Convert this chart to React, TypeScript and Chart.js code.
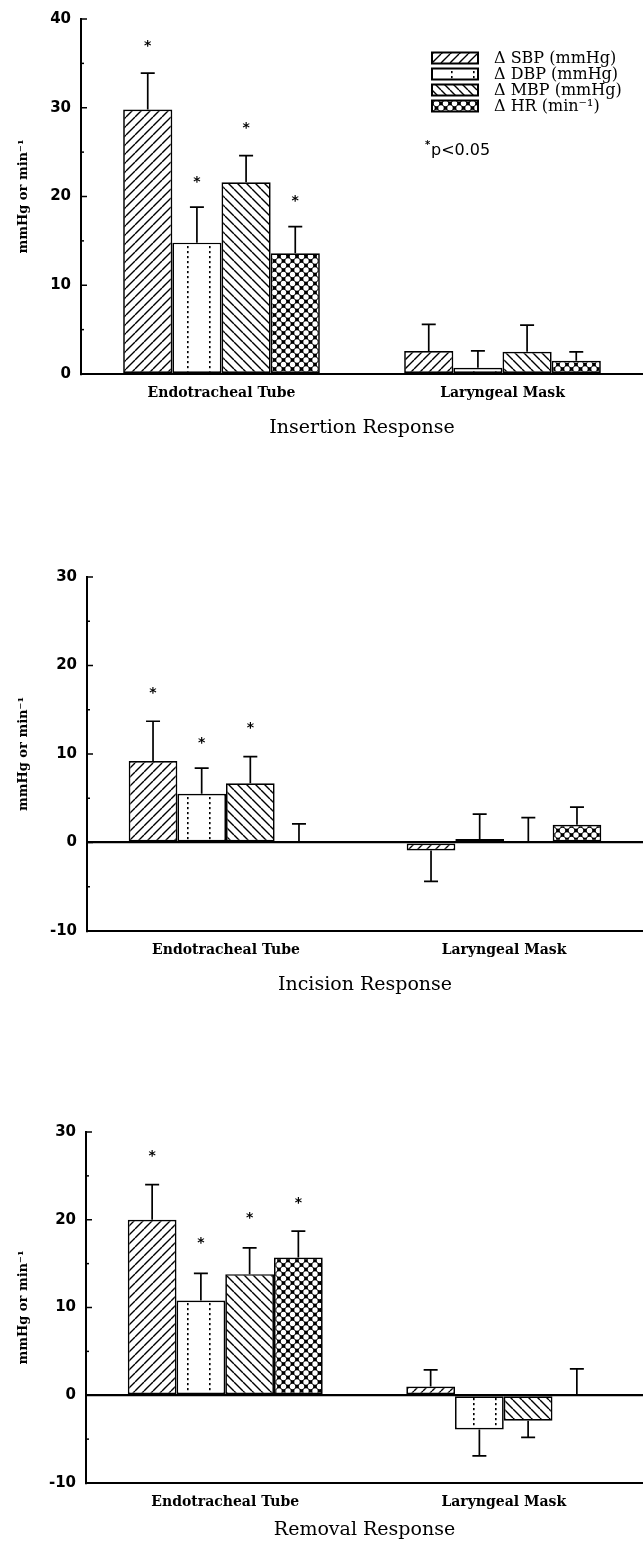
import React, { useEffect, useRef } from 'react';
import { Chart, registerables } from 'chart.js';
Chart.register(...registerables);

// ---------- data ----------
const categories = ['Endotracheal Tube', 'Laryngeal Mask'];
const seriesLabels = ['Δ SBP (mmHg)', 'Δ DBP (mmHg)', 'Δ MBP (mmHg)', 'Δ HR (min⁻¹)'];
const yTitle = 'mmHg or min⁻¹';
const sigNote = 'p<0.05';

// Insertion response
const insSBP = [29.8, 2.6];
const insDBP = [14.8, 0.7];
const insMBP = [21.6, 2.5];
const insHR = [13.6, 1.5];
const insSBPsem = [4.1, 3.0];
const insDBPsem = [4.0, 1.9];
const insMBPsem = [3.0, 3.0];
const insHRsem = [3.0, 1.0];
const insSBPstar = [37.2, null];
const insDBPstar = [21.9, null];
const insMBPstar = [28.0, null];
const insHRstar = [19.8, null];

// Incision response
const incSBP = [9.2, -0.9];
const incDBP = [5.5, 0.4];
const incMBP = [6.7, 0.0];
const incHR = [0.1, 2.0];
const incSBPsem = [4.5, 3.5];
const incDBPsem = [2.9, 2.8];
const incMBPsem = [3.0, 2.8];
const incHRsem = [2.0, 2.0];
const incSBPstar = [17.2, null];
const incDBPstar = [11.5, null];
const incMBPstar = [13.2, null];
const incHRstar = [null, null];

// Removal response
const remSBP = [20.0, 1.0];
const remDBP = [10.8, -3.9];
const remMBP = [13.8, -2.9];
const remHR = [15.7, 0.0];
const remSBPsem = [4.0, 1.9];
const remDBPsem = [3.1, 3.0];
const remMBPsem = [3.0, 1.9];
const remHRsem = [3.0, 3.0];
const remSBPstar = [27.6, null];
const remDBPstar = [17.6, null];
const remMBPstar = [20.5, null];
const remHRstar = [22.2, null];

const insTitle = 'Insertion Response';
const incTitle = 'Incision Response';
const remTitle = 'Removal Response';

// ---------- patterns ----------
function makePattern(kind: string): CanvasPattern | string {
  const c = document.createElement('canvas');
  const g = c.getContext('2d')!;
  if (kind === 'fwd' || kind === 'back') {
    const s = 9;
    c.width = s; c.height = s;
    g.fillStyle = '#fff'; g.fillRect(0, 0, s, s);
    g.strokeStyle = '#000'; g.lineWidth = 1.4;
    g.beginPath();
    if (kind === 'fwd') {
      for (let k = -1; k <= 1; k++) { g.moveTo(k * s, s); g.lineTo(k * s + s, 0); }
    } else {
      for (let k = -1; k <= 1; k++) { g.moveTo(k * s, 0); g.lineTo(k * s + s, s); }
    }
    g.stroke();
  } else if (kind === 'dots') {
    c.width = 22; c.height = 5;
    g.fillStyle = '#fff'; g.fillRect(0, 0, 22, 5);
    g.fillStyle = '#000';
    g.fillRect(11, 1, 1.6, 2.2);
  } else {
    const s = 9;
    c.width = s; c.height = s;
    g.fillStyle = '#000'; g.fillRect(0, 0, s, s);
    g.fillStyle = '#fff';
    const pts = [[0, 0], [s, 0], [0, s], [s, s], [s / 2, s / 2]];
    for (const [x, y] of pts) { g.beginPath(); g.arc(x, y, 2.7, 0, Math.PI * 2); g.fill(); }
  }
  return g.createPattern(c, 'repeat') || '#fff';
}

type PanelCfg = {
  title: string;
  min: number;
  max: number;
  values: number[][];
  sems: number[][];
  stars: (number | null)[][];
  height: number;
  padTop: number;
  padBottom: number;
  axisX: number;
  xH: number;
  titlePad: number;
  legend: boolean;
};

const panels: PanelCfg[] = [
  {
    title: insTitle, min: 0, max: 40,
    values: [insSBP, insDBP, insMBP, insHR],
    sems: [insSBPsem, insDBPsem, insMBPsem, insHRsem],
    stars: [insSBPstar, insDBPstar, insMBPstar, insHRstar],
    height: 556, padTop: 19, padBottom: 112, axisX: 81, xH: 70, titlePad: 5, legend: true,
  },
  {
    title: incTitle, min: -10, max: 30,
    values: [incSBP, incDBP, incMBP, incHR],
    sems: [incSBPsem, incDBPsem, incMBPsem, incHRsem],
    stars: [incSBPstar, incDBPstar, incMBPstar, incHRstar],
    height: 556, padTop: 21, padBottom: 111, axisX: 87, xH: 70, titlePad: 5, legend: false,
  },
  {
    title: remTitle, min: -10, max: 30,
    values: [remSBP, remDBP, remMBP, remHR],
    sems: [remSBPsem, remDBPsem, remMBPsem, remHRsem],
    stars: [remSBPstar, remDBPstar, remMBPstar, remHRstar],
    height: 437, padTop: 20, padBottom: 0, axisX: 86, xH: 66, titlePad: 8, legend: false,
  },
];

const SERIF = '"DejaVu Serif", serif';
const SANS = '"DejaVu Sans", sans-serif';

function Panel({ cfg }: { cfg: PanelCfg }) {
  const ref = useRef<HTMLCanvasElement>(null);
  useEffect(() => {
    const canvas = ref.current!;
    const pats = ['fwd', 'dots', 'back', 'circles'].map(makePattern);

    const extras = {
      id: 'extras',
      afterDatasetsDraw(chart: any) {
        const { ctx, scales } = chart;
        const y = scales.y;
        ctx.save();
        ctx.strokeStyle = '#000';
        ctx.fillStyle = '#000';
        ctx.lineWidth = 1.7;
        cfg.values.forEach((vals, i) => {
          const meta = chart.getDatasetMeta(i);
          meta.data.forEach((el: any, j: number) => {
            const v = vals[j];
            const end = v >= 0 ? v + cfg.sems[i][j] : v - cfg.sems[i][j];
            const y0 = y.getPixelForValue(v);
            const y1 = y.getPixelForValue(end);
            ctx.beginPath();
            ctx.moveTo(el.x, y0);
            ctx.lineTo(el.x, y1);
            ctx.moveTo(el.x - 7, y1);
            ctx.lineTo(el.x + 7, y1);
            ctx.stroke();
            const st = cfg.stars[i][j];
            if (st !== null && st !== undefined) {
              ctx.font = 'bold 14px ' + SANS;
              ctx.textAlign = 'center';
              ctx.textBaseline = 'alphabetic';
              const m = ctx.measureText('*');
              const off = (m.actualBoundingBoxAscent - m.actualBoundingBoxDescent) / 2;
              ctx.fillText('*', el.x, y.getPixelForValue(st) + off);
            }
          });
        });
        ctx.restore();
      },
      afterDraw(chart: any) {
        const { ctx, scales, chartArea } = chart;
        const y = scales.y;
        ctx.save();
        ctx.strokeStyle = '#000';
        ctx.lineWidth = 1.5;
        for (let v = cfg.min; v <= cfg.max; v += 5) {
          const yy = y.getPixelForValue(v);
          const len = v % 10 === 0 ? 6 : 3;
          ctx.beginPath();
          ctx.moveTo(chartArea.left, yy);
          ctx.lineTo(chartArea.left + len, yy);
          ctx.stroke();
        }
        if (cfg.legend) {
          const rows = [58, 74, 90, 106];
          rows.forEach((ry, i) => {
            ctx.fillStyle = pats[i] as any;
            ctx.fillRect(432, ry - 5.5, 46, 11);
            ctx.lineWidth = 2;
            ctx.strokeRect(432, ry - 5.5, 46, 11);
            ctx.fillStyle = '#000';
            ctx.font = '16px ' + SERIF;
            ctx.textAlign = 'left';
            ctx.textBaseline = 'middle';
            ctx.fillText(seriesLabels[i], 494, ry + 1);
          });
          ctx.fillStyle = '#000';
          ctx.textBaseline = 'middle';
          ctx.font = 'bold 10px ' + SANS;
          ctx.fillText('*', 425, 145);
          ctx.font = '16px ' + SANS;
          ctx.fillText(sigNote, 431, 151);
        }
        ctx.restore();
      },
    };

    const chart = new Chart(canvas, {
      type: 'bar',
      data: {
        labels: categories,
        datasets: cfg.values.map((vals, i) => ({
          label: seriesLabels[i],
          data: vals,
          backgroundColor: pats[i] as any,
          borderColor: '#000',
          borderWidth: 1.7,
          borderSkipped: false,
          categoryPercentage: 0.7,
          barPercentage: 1.0,
        })),
      },
      options: {
        animation: false,
        responsive: false,
        devicePixelRatio: 1,
        layout: { padding: { top: cfg.padTop, bottom: cfg.padBottom, left: 0, right: 0 } },
        plugins: { legend: { display: false }, tooltip: { enabled: false }, title: { display: false } },
        scales: {
          x: {
            type: 'category',
            offset: true,
            grid: { display: false, drawTicks: false },
            border: { display: true, color: '#000', width: 2 },
            ticks: { color: '#000', font: { family: SERIF, size: 14, weight: 'bold' }, padding: 11, maxRotation: 0 },
            title: {
              display: true, text: cfg.title, color: '#000',
              font: { family: SERIF, size: 19, weight: 'normal' },
              padding: { top: 0, bottom: cfg.titlePad },
            },
            afterFit: (s: any) => { s.height = cfg.xH; },
          },
          y: {
            min: cfg.min, max: cfg.max,
            grid: {
              display: true, drawTicks: false,
              color: (c: any) => (c.tick && c.tick.value === 0 && cfg.min < 0 ? '#000' : 'rgba(0,0,0,0)'),
              lineWidth: 2.2,
            },
            border: { display: true, color: '#000', width: 2 },
            ticks: { stepSize: 10, color: '#000', font: { family: SANS, size: 15, weight: 'bold' }, padding: 10 },
            title: {
              display: true, text: yTitle, color: '#000',
              font: { family: SERIF, size: 13, weight: 'bold' },
              padding: { top: 16, bottom: 0 },
            },
            afterFit: (s: any) => { s.width = cfg.axisX; },
          },
        },
      },
      plugins: [extras],
    } as any);
    return () => chart.destroy();
  }, [cfg]);
  return <canvas ref={ref} width={643} height={cfg.height} style={{ display: 'block', width: 643, height: cfg.height }} />;
}

export default function App() {
  useEffect(() => {
    document.body.style.margin = '0';
    document.body.style.background = '#fff';
  }, []);
  return (
    <div style={{ width: 643, background: '#fff' }}>
      {panels.map((p, i) => <Panel key={i} cfg={p} />)}
    </div>
  );
}
